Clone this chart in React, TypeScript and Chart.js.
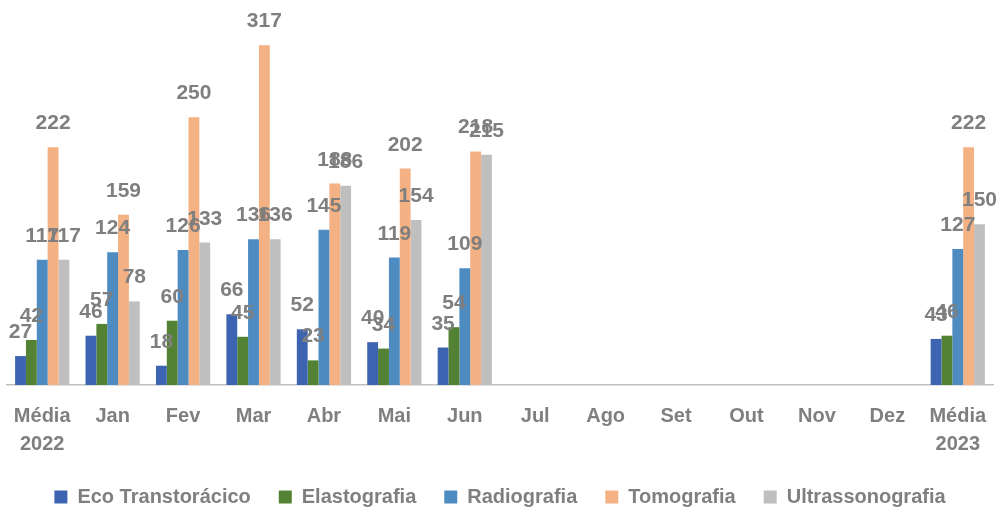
import React, { useEffect, useRef } from "react";
import { Chart, registerables } from "chart.js";

Chart.register(...registerables);

const categories: (string | string[])[] = [
  ["Média", "2022"], "Jan", "Fev", "Mar", "Abr", "Mai", "Jun", "Jul", "Ago", "Set", "Out", "Nov", "Dez", ["Média", "2023"],
];
const seriesNames = ["Eco Transtorácico", "Elastografia", "Radiografia", "Tomografia", "Ultrassonografia"];
const ecoTranstoracico = [27, 46, 18, 66, 52, 40, 35, null, null, null, null, null, null, 43];
const elastografia = [42, 57, 60, 45, 23, 34, 54, null, null, null, null, null, null, 46];
const radiografia = [117, 124, 126, 136, 145, 119, 109, null, null, null, null, null, null, 127];
const tomografia = [222, 159, 250, 317, 188, 202, 218, null, null, null, null, null, null, 222];
const ultrassonografia = [117, 78, 133, 136, 186, 154, 215, null, null, null, null, null, null, 150];
const colors = ["#3d64b0", "#548235", "#4e8bc1", "#f4b183", "#bfbfbf"];

const FONT = "'Liberation Sans', Arial, sans-serif";
const GRAY = "#7f7f7f";

const labelPlugin = {
  id: "barValueLabels",
  afterDatasetsDraw(chart: any) {
    const ctx = chart.ctx;
    ctx.save();
    ctx.font = `bold 21px ${FONT}`;
    ctx.fillStyle = GRAY;
    ctx.textAlign = "center";
    ctx.textBaseline = "alphabetic";
    chart.data.datasets.forEach((ds: any, i: number) => {
      const meta = chart.getDatasetMeta(i);
      meta.data.forEach((bar: any, j: number) => {
        const v = ds.data[j];
        if (v === null || v === undefined) return;
        ctx.fillText(String(v), bar.x, bar.y - 18);
      });
    });
    ctx.restore();
  },
};

export default function App() {
  const ref = useRef<HTMLCanvasElement>(null);
  useEffect(() => {
    document.body.style.margin = "0";
    const allData = [ecoTranstoracico, elastografia, radiografia, tomografia, ultrassonografia];
    const chart = new Chart(ref.current!, {
      type: "bar",
      data: {
        labels: categories,
        datasets: seriesNames.map((name, i) => ({
          label: name,
          data: allData[i],
          backgroundColor: colors[i],
          borderWidth: 0,
          barPercentage: 1,
          categoryPercentage: 0.77,
        })),
      },
      options: {
        animation: false,
        responsive: true,
        maintainAspectRatio: false,
        layout: { padding: { left: 7, right: 7, top: 10, bottom: -5 } },
        plugins: {
          tooltip: { enabled: false },
          legend: {
            position: "bottom",
            labels: {
              boxWidth: 13,
              boxHeight: 13,
              padding: 28,
              color: GRAY,
              font: { family: FONT, size: 20, weight: "bold" },
            },
          },
        },
        scales: {
          x: {
            grid: { display: false, drawTicks: true, tickLength: 10, tickColor: "rgba(0,0,0,0)" },
            border: { display: true, color: "#bfbfbf", width: 1.5 },
            ticks: {
              color: GRAY,
              padding: 7,
              autoSkip: false,
              maxRotation: 0,
              font: { family: FONT, size: 20, weight: "bold", lineHeight: 1.4 },
            },
            afterFit: (scale: any) => {
              scale.height -= 6;
            },
          },
          y: {
            display: false,
            min: 0,
            max: 350,
          },
        },
      },
      plugins: [labelPlugin],
    });
    return () => chart.destroy();
  }, []);
  return (
    <div style={{ position: "fixed", left: 0, top: 0, width: 1000, height: 512 }}>
      <canvas ref={ref} />
    </div>
  );
}
